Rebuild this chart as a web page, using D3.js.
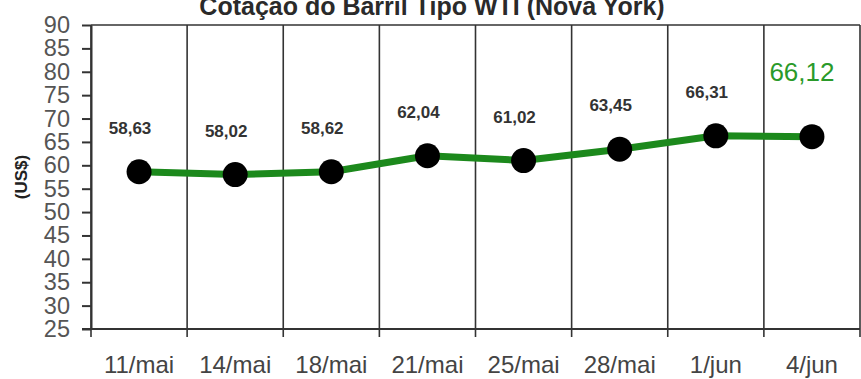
<!DOCTYPE html>
<html>
<head>
<meta charset="utf-8">
<script src="https://cdn.jsdelivr.net/npm/d3@7"></script>
<style>
  html, body { margin: 0; padding: 0; background: #fff; }
  svg { display: block; font-family: 'Liberation Sans', Arial, sans-serif; }
</style>
</head>
<body>
<svg width="861" height="379"></svg>
<script>
const dates = ['11/mai', '14/mai', '18/mai', '21/mai', '25/mai', '28/mai', '1/jun', '4/jun']
const prices = [58.63, 58.02, 58.62, 62.04, 61.02, 63.45, 66.31, 66.12]
const yTicks = [25, 30, 35, 40, 45, 50, 55, 60, 65, 70, 75, 80, 85, 90]
const title = 'Cotação do Barril Tipo WTI (Nova York)'
const yTitle = '(US$)'

const width = 861
const height = 379
const margin = { top: 25, right: 1, bottom: 50, left: 91 }
const green = '#1c891c'

const svg = d3.select('svg')
const fmt = v => d3.format('.2f')(v).replace('.', ',')

const x = d3.scaleBand()
  .domain(dates)
  .range([margin.left, width - margin.right])
  .padding(0)

const y = d3.scaleLinear()
  .domain([d3.min(yTicks), d3.max(yTicks)])
  .range([height - margin.bottom, margin.top])

const cx = d => x(d) + x.bandwidth() / 2

// vertical separators between categories + frame
const bounds = dates.map(d => x(d)).concat([x.range()[1]])
svg.append('g')
  .selectAll('line')
  .data(bounds)
  .join('line')
  .attr('x1', d => d)
  .attr('x2', d => d)
  .attr('y1', margin.top)
  .attr('y2', height - margin.bottom + 8)
  .attr('stroke', '#333')
  .attr('stroke-width', 1.6)

// top border
svg.append('line')
  .attr('x1', margin.left).attr('x2', width - margin.right)
  .attr('y1', margin.top).attr('y2', margin.top)
  .attr('stroke', '#333').attr('stroke-width', 1.6)

// bottom axis line
svg.append('line')
  .attr('x1', margin.left - 9).attr('x2', width - margin.right)
  .attr('y1', y(25)).attr('y2', y(25))
  .attr('stroke', '#333').attr('stroke-width', 2)

// y axis
const yAxis = g => g
  .attr('transform', `translate(${margin.left},0)`)
  .call(d3.axisLeft(y).tickValues(yTicks).tickSize(9).tickSizeOuter(0).tickPadding(12))
  .call(g => g.select('.domain').attr('stroke', '#333').attr('stroke-width', 2))
  .call(g => g.selectAll('.tick line').attr('stroke', '#333').attr('stroke-width', 2))
  .call(g => g.selectAll('.tick text')
    .attr('font-size', 23.5)
    .attr('font-family', "'Liberation Sans', Arial, sans-serif")
    .attr('fill', '#555'))

svg.append('g').call(yAxis)

// x axis labels
const xAxis = g => g
  .attr('transform', `translate(0,${y(25)})`)
  .call(d3.axisBottom(x).tickSize(0).tickPadding(27))
  .call(g => g.select('.domain').remove())
  .call(g => g.selectAll('.tick text')
    .attr('font-size', 24)
    .attr('font-family', "'Liberation Sans', Arial, sans-serif")
    .attr('fill', '#444'))

svg.append('g').call(xAxis)

// price line
const line = d3.line()
  .x((d, i) => cx(dates[i]))
  .y(d => y(d))

svg.append('path')
  .datum(prices)
  .attr('fill', 'none')
  .attr('stroke', green)
  .attr('stroke-width', 7)
  .attr('stroke-linejoin', 'round')
  .attr('d', line)

svg.append('g')
  .selectAll('circle')
  .data(prices)
  .join('circle')
  .attr('cx', (d, i) => cx(dates[i]))
  .attr('cy', d => y(d))
  .attr('r', 12.5)
  .attr('fill', '#000')

// value labels (last one highlighted)
const last = prices.length - 1
svg.append('g')
  .selectAll('text')
  .data(prices)
  .join('text')
  .attr('text-anchor', 'middle')
  .attr('x', (d, i) => i === last ? cx(dates[i]) - 10 : cx(dates[i]) - 9)
  .attr('y', (d, i) => i === last ? y(d) - 56 : y(d) - 38)
  .attr('font-size', (d, i) => i === last ? 26 : 17)
  .attr('font-weight', (d, i) => i === last ? 'normal' : 'bold')
  .attr('fill', (d, i) => i === last ? '#2a9a2a' : '#333')
  .text(d => fmt(d))

// title
svg.append('text')
  .attr('x', 432)
  .attr('y', 15)
  .attr('text-anchor', 'middle')
  .attr('font-size', 25)
  .attr('font-weight', 'bold')
  .attr('fill', '#2a2a2a')
  .text(title)

// y axis title
svg.append('text')
  .attr('transform', `translate(27,${(y(25) + y(90)) / 2}) rotate(-90)`)
  .attr('text-anchor', 'middle')
  .attr('font-size', 17)
  .attr('font-weight', 'bold')
  .attr('fill', '#222')
  .text(yTitle)
</script>
</body>
</html>
